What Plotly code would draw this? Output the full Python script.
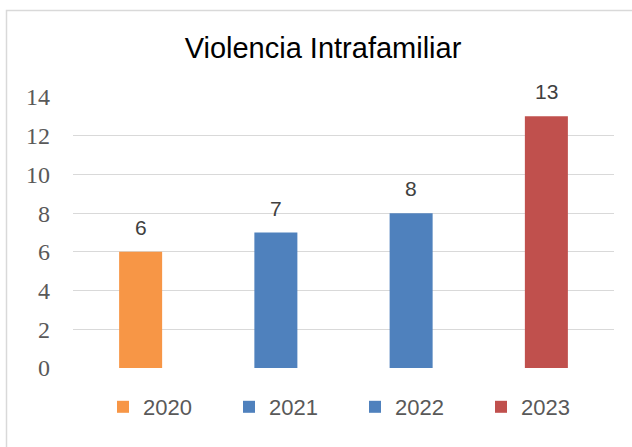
import plotly.graph_objects as go

# Cases per year
years = ["2020", "2021", "2022", "2023"]
cases = [6, 7, 8, 13]
colors = ["#F79646", "#4F81BD", "#4F81BD", "#C0504D"]
y_ticks = [0, 2, 4, 6, 8, 10, 12, 14]

W, H = 632, 447
L, R, T, B = 73, 18, 97, 79
plot_w = W - L - R
plot_h = H - T - B

# one slot per year on a numeric axis
slots = list(range(len(years)))

fig = go.Figure()
for pos, yr, val, col in zip(slots, years, cases, colors):
    fig.add_trace(go.Bar(
        x=[pos], y=[val], name=yr,
        marker=dict(color=col, line=dict(width=0)),
        width=0.318,
    ))

# value labels above each bar
for pos, val in zip(slots, cases):
    fig.add_annotation(
        x=pos, y=val, text=str(val), showarrow=False,
        yanchor="bottom", yshift=11,
        font=dict(family="Liberation Sans, Arial", size=21, color="#404040"),
    )

def px_to_paper_x(px):
    return (px - L) / plot_w

def px_to_paper_y(py):
    return (H - B - py) / plot_h

# chart frame
fig.add_shape(
    type="rect", xref="paper", yref="paper",
    x0=px_to_paper_x(6.5), x1=px_to_paper_x(W + 10),
    y0=px_to_paper_y(H + 10), y1=px_to_paper_y(10.5),
    line=dict(color="#D9D9D9", width=1.5), fillcolor="rgba(0,0,0,0)",
    layer="below",
)

fig.update_layout(
    width=W, height=H,
    margin=dict(l=L, r=R, t=T, b=B),
    paper_bgcolor="white", plot_bgcolor="white",
    barmode="overlay",
    title=dict(
        text="Violencia Intrafamiliar",
        x=323 / W, xanchor="center", xref="container",
        y=1 - 48 / H, yanchor="middle", yref="container",
        font=dict(family="Liberation Sans, Arial", size=29, color="#000000"),
    ),
    xaxis=dict(
        range=[-0.5, len(years) - 0.5],
        showticklabels=False, showgrid=False, zeroline=False, showline=False,
        ticks="",
    ),
    yaxis=dict(
        range=[0, 14], tickvals=y_ticks, ticktext=[str(v) for v in y_ticks],
        showgrid=True, gridcolor="#D9D9D9", gridwidth=1,
        zeroline=False, showline=False, ticks="",
        ticklabelstandoff=22,
        tickfont=dict(family="Liberation Serif, Cambria, serif", size=24, color="#595959"),
    ),
    showlegend=True,
    legend=dict(
        orientation="h",
        x=px_to_paper_x(103), xanchor="left",
        y=px_to_paper_y(407), yanchor="middle",
        entrywidth=81, entrywidthmode="pixels",
        font=dict(family="Liberation Sans, Arial", size=22, color="#595959"),
        bgcolor="rgba(0,0,0,0)",
        traceorder="normal",
    ),
)

fig.write_html("out.html")
